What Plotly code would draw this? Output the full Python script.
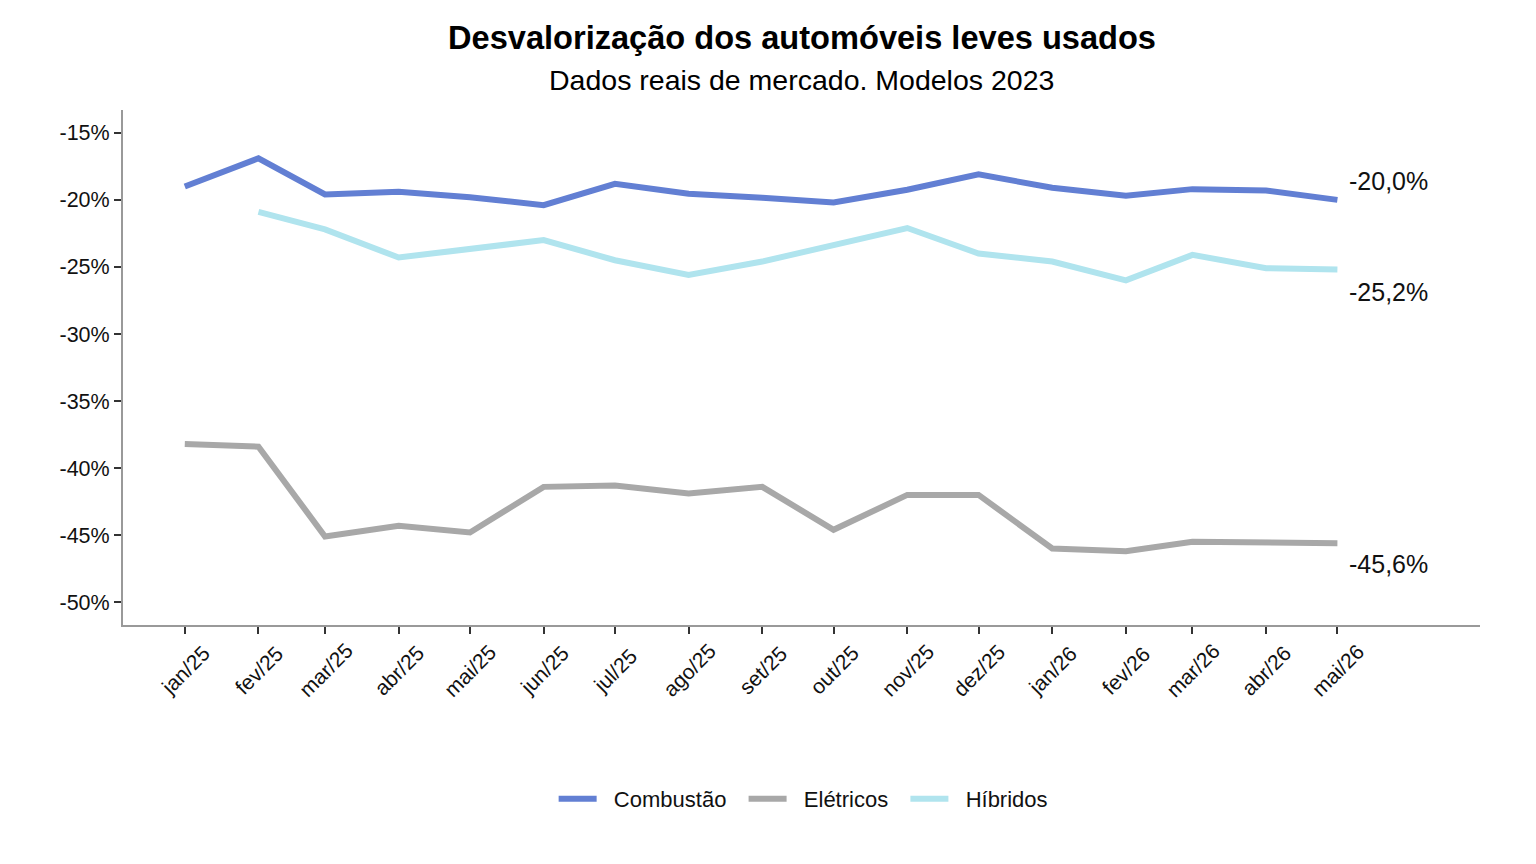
import plotly.graph_objects as go

months = ["2025-01-01", "2025-02-01", "2025-03-01", "2025-04-01", "2025-05-01", "2025-06-01",
          "2025-07-01", "2025-08-01", "2025-09-01", "2025-10-01", "2025-11-01", "2025-12-01",
          "2026-01-01", "2026-02-01", "2026-03-01", "2026-04-01", "2026-05-01"]
month_labels = ["jan/25", "fev/25", "mar/25", "abr/25", "mai/25", "jun/25", "jul/25", "ago/25",
                "set/25", "out/25", "nov/25", "dez/25", "jan/26", "fev/26", "mar/26", "abr/26", "mai/26"]

combustao = [-19.0, -16.9, -19.6, -19.4, -19.8, -20.4, -18.8, -19.55, -19.85, -20.2, -19.25,
             -18.1, -19.1, -19.7, -19.2, -19.3, -20.0]
eletricos = [-38.2, -38.4, -45.1, -44.3, -44.8, -41.4, -41.3, -41.9, -41.4, -44.6, -42.0,
             -42.0, -46.0, -46.2, -45.5, -45.5, -45.6]
hibridos = [None, -20.9, -22.2, -24.3, -23.7, -23.0, -24.5, -25.6, -24.6, -23.4, -22.1,
            -24.0, -24.6, -26.0, -24.1, -25.1, -25.2]

y_ticks = [-50, -45, -40, -35, -30, -25, -20, -15]
y_tick_labels = ["-50%", "-45%", "-40%", "-35%", "-30%", "-25%", "-20%", "-15%"]

series = [("Combustão", combustao, "#627fd3"),
          ("Elétricos", eletricos, "#a8a8a8"),
          ("Híbridos", hibridos, "#b0e4ee")]

end_labels = [("-20,0%", combustao[-1], -19),
              ("-45,6%", eletricos[-1], 21),
              ("-25,2%", hibridos[-1], 22)]

FONT = "Liberation Sans, Arial, sans-serif"

# page offset (browser body margin) compensation
OFF = 8
PLOT_TOP, PLOT_BOTTOM = 110, 625
PLOT_H = PLOT_BOTTOM - PLOT_TOP


def paper_y(px):
    return (PLOT_BOTTOM - px) / PLOT_H


fig = go.Figure()
for name, vals, color in series:
    fig.add_trace(go.Scatter(x=months, y=vals, mode="lines",
                             name="&nbsp;&nbsp;" + name + "&nbsp;&nbsp;",
                             line=dict(color=color, width=6), connectgaps=False))

annotations = []
for text, val, shift in end_labels:
    annotations.append(dict(x=months[-1], y=val, xref="x", yref="y", text=text,
                            showarrow=False, xanchor="left", yanchor="middle",
                            xshift=10, yshift=-shift,
                            font=dict(family=FONT, size=25, color="#111111")))

# x tick labels, rotated and centred on each tick
for m, lab in zip(months, month_labels):
    annotations.append(dict(x=m, y=paper_y(670), xref="x", yref="paper", text=lab,
                            showarrow=False, xanchor="center", yanchor="middle",
                            textangle=-45,
                            font=dict(family=FONT, size=21, color="#111111")))

annotations.append(dict(x=0.5, y=paper_y(37), xref="paper", yref="paper",
                        text="<b>Desvalorização dos automóveis leves usados</b>",
                        showarrow=False, xanchor="center", yanchor="middle",
                        font=dict(family=FONT, size=32.6, color="#000000")))
annotations.append(dict(x=0.5, y=paper_y(80), xref="paper", yref="paper",
                        text="Dados reais de mercado. Modelos 2023",
                        showarrow=False, xanchor="center", yanchor="middle",
                        font=dict(family=FONT, size=28.5, color="#000000")))

fig.update_layout(
    width=1536, height=864,
    paper_bgcolor="white", plot_bgcolor="white",
    margin=dict(l=123 - OFF, r=56 + OFF, t=PLOT_TOP - OFF, b=864 - PLOT_BOTTOM + OFF),
    font=dict(family=FONT, size=20, color="#111111"),
    showlegend=True,
    legend=dict(orientation="h", x=0.506, xanchor="center", y=paper_y(799),
                yanchor="middle", font=dict(size=22), itemwidth=38,
                traceorder="normal"),
    annotations=annotations,
    xaxis=dict(type="date", range=["2024-12-06", "2026-06-30"],
               tickvals=months, showticklabels=False,
               showgrid=False, zeroline=False,
               showline=True, linecolor="#999999", linewidth=2,
               ticks="outside", ticklen=7, tickwidth=2, tickcolor="#333333"),
    yaxis=dict(range=[-51.7, -13.3], tickvals=y_ticks, ticktext=y_tick_labels,
               showgrid=False, zeroline=False,
               showline=True, linecolor="#999999", linewidth=2,
               ticks="outside", ticklen=7, tickwidth=2, tickcolor="#333333",
               tickfont=dict(size=21.5)),
)

fig.write_html("out.html")
